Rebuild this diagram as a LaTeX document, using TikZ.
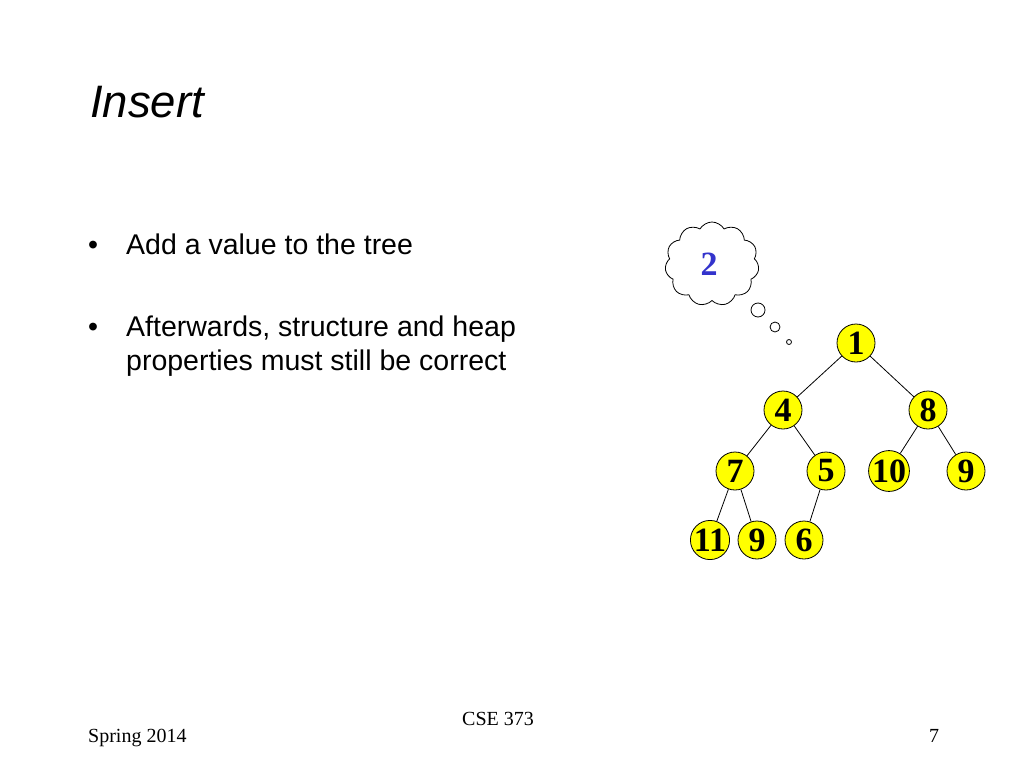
\documentclass[tikz,border=0pt]{standalone}
\usepackage{fontspec}
\setmainfont{Liberation Serif}
\setsansfont{Liberation Sans}
\usetikzlibrary{shapes.symbols}
\definecolor{numblue}{RGB}{51,51,204}
\definecolor{nodeyellow}{RGB}{255,255,0}
\tikzset{
  hnode/.style={circle, draw=black, line width=0.8pt, fill=nodeyellow, minimum size=38pt, inner sep=0pt,
    font=\fontsize{34}{34}\selectfont\bfseries},
  edge/.style={draw=black, line width=0.8pt},
  bodytext/.style={anchor=base west, inner sep=0pt, font=\sffamily\fontsize{28.5}{32}\selectfont},
  foot/.style={inner sep=0pt, font=\fontsize{20}{22}\selectfont},
  bubble/.style={circle, draw=black, line width=0.8pt, fill=white, inner sep=0pt}
}
\begin{document}
\begin{tikzpicture}[x=1pt,y=-1pt]
\useasboundingbox[fill=white] (0,0) rectangle (1024,768);
% title
\node[anchor=base west, inner sep=0pt, font=\sffamily\itshape\fontsize{45.5}{50}\selectfont] (title) at (90,117) {Insert};
% bullets
\node[bodytext] (b1) at (88,254) {•};
\node[bodytext] (t1) at (126,254) {Add a value to the tree};
\node[bodytext] (b2) at (88,336) {•};
\node[bodytext] (t2a) at (126,336) {Afterwards, structure and heap};
\node[bodytext] (t2b) at (126,370) {properties must still be correct};
% cloud
\node[cloud, cloud puffs=11, cloud puff arc=120, aspect=1.1, draw=black, line width=0.8pt, fill=white,
  minimum width=94pt, minimum height=84pt, inner sep=0pt] (cloud) at (712,264) {};
\node[font=\fontsize{34}{34}\selectfont\bfseries, text=numblue, inner sep=0pt] (two) at (709,264) {2};
\node[bubble, minimum size=14pt] (c1) at (758,310) {};
\node[bubble, minimum size=10pt] (c2) at (775,327) {};
\node[bubble, minimum size=5pt] (c3) at (789,342) {};
% tree
\node[hnode] (n1) at (856,343) {1};
\node[hnode] (n4) at (783,410) {4};
\node[hnode] (n8) at (928,410) {8};
\node[hnode] (n7) at (735,471) {7};
\node[hnode] (n5) at (826,471) {5};
\node[hnode] (n10) at (889,471) {10};
\node[hnode] (n9) at (966,471) {9};
\node[hnode] (n11) at (710,540) {11};
\node[hnode] (n9b) at (757,540) {9};
\node[hnode] (n6) at (804,540) {6};
\draw[edge] (n1) -- (n4);
\draw[edge] (n1) -- (n8);
\draw[edge] (n4) -- (n7);
\draw[edge] (n4) -- (n5);
\draw[edge] (n8) -- (n10);
\draw[edge] (n8) -- (n9);
\draw[edge] (n7) -- (n11);
\draw[edge] (n7) -- (n9b);
\draw[edge] (n5) -- (n6);
% footer
\node[foot, anchor=base west] (spring) at (88,742) {Spring 2014};
\node[foot, anchor=base] (cse) at (498,725) {CSE 373};
\node[foot, anchor=base] (page) at (934,742) {7};
\end{tikzpicture}
\end{document}
